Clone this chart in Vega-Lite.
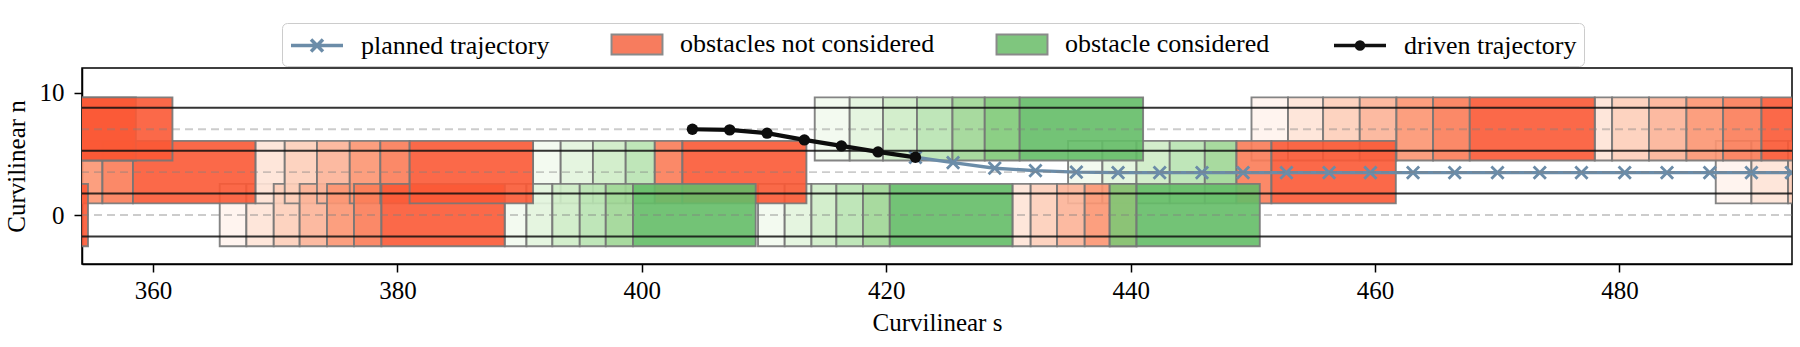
{
  "$schema": "https://vega.github.io/schema/vega-lite/v6.json",
  "width": 1710,
  "height": 196,
  "autosize": {"type": "none"},
  "padding": {"left": 82, "top": 68, "right": 8, "bottom": 83},
  "background": "white",
  "config": {
    "view": {"stroke": "black", "strokeWidth": 1.5},
    "font": "Liberation Serif",
    "axis": {
      "labelFont": "Liberation Serif", "labelFontSize": 25, "labelColor": "black",
      "titleFont": "Liberation Serif", "titleFontSize": 25, "titleFontWeight": "normal", "titleColor": "black",
      "tickColor": "black", "tickSize": 8, "tickWidth": 1.5,
      "domainColor": "black", "domainWidth": 1.5, "grid": false, "labelFlush": false
    },
    "legend": {"symbolFillColor": "transparent", "symbolStrokeColor": "transparent"}
  },
  "datasets": {
    "boxes": [
      {"s0":365.46,"s1":367.64,"n0":-2.55,"n1":2.54,"c":"R1"},
      {"s0":449.89,"s1":452.88,"n0":4.45,"n1":9.6,"c":"R1"},
      {"s0":487.88,"s1":490.8,"n0":0.95,"n1":6.05,"c":"R1"},
      {"s0":391.1,"s1":393.36,"n0":0.95,"n1":6.05,"c":"G1"},
      {"s0":434.88,"s1":437.69,"n0":0.95,"n1":6.05,"c":"G1"},
      {"s0":388.78,"s1":390.56,"n0":-2.55,"n1":2.54,"c":"G1"},
      {"s0":409.51,"s1":411.69,"n0":-2.55,"n1":2.54,"c":"G1"},
      {"s0":414.15,"s1":417.01,"n0":4.45,"n1":9.6,"c":"G1"},

      {"s0":367.64,"s1":369.88,"n0":-2.55,"n1":2.54,"c":"R2"},
      {"s0":430.33,"s1":431.82,"n0":-2.55,"n1":2.54,"c":"R2"},
      {"s0":368.38,"s1":370.78,"n0":0.95,"n1":6.05,"c":"R2"},
      {"s0":490.8,"s1":493.8,"n0":0.95,"n1":6.05,"c":"R2"},
      {"s0":452.88,"s1":455.75,"n0":4.45,"n1":9.6,"c":"R2"},
      {"s0":477.98,"s1":479.4,"n0":4.45,"n1":9.6,"c":"R2"},
      {"s0":393.36,"s1":396.0,"n0":0.95,"n1":6.05,"c":"G2"},
      {"s0":437.69,"s1":440.48,"n0":0.95,"n1":6.05,"c":"G2"},
      {"s0":390.56,"s1":392.68,"n0":-2.55,"n1":2.54,"c":"G2"},
      {"s0":411.69,"s1":413.88,"n0":-2.55,"n1":2.54,"c":"G2"},
      {"s0":417.01,"s1":419.74,"n0":4.45,"n1":9.6,"c":"G2"},

      {"s0":369.88,"s1":372.0,"n0":-2.55,"n1":2.54,"c":"R3"},
      {"s0":431.82,"s1":433.98,"n0":-2.55,"n1":2.54,"c":"R3"},
      {"s0":370.78,"s1":373.42,"n0":0.95,"n1":6.05,"c":"R3"},
      {"s0":493.8,"s1":497.0,"n0":0.95,"n1":6.05,"c":"R3"},
      {"s0":455.75,"s1":458.75,"n0":4.45,"n1":9.6,"c":"R3"},
      {"s0":479.4,"s1":482.42,"n0":4.45,"n1":9.6,"c":"R3"},
      {"s0":396.0,"s1":398.68,"n0":0.95,"n1":6.05,"c":"G3"},
      {"s0":440.48,"s1":443.2,"n0":0.95,"n1":6.05,"c":"G3"},
      {"s0":392.68,"s1":394.92,"n0":-2.55,"n1":2.54,"c":"G3"},
      {"s0":413.88,"s1":415.92,"n0":-2.55,"n1":2.54,"c":"G3"},
      {"s0":419.74,"s1":422.52,"n0":4.45,"n1":9.6,"c":"G3"},

      {"s0":372.0,"s1":374.24,"n0":-2.55,"n1":2.54,"c":"R4"},
      {"s0":433.98,"s1":436.24,"n0":-2.55,"n1":2.54,"c":"R4"},
      {"s0":373.42,"s1":376.1,"n0":0.95,"n1":6.05,"c":"R4"},
      {"s0":458.75,"s1":461.75,"n0":4.45,"n1":9.6,"c":"R4"},
      {"s0":482.42,"s1":485.48,"n0":4.45,"n1":9.6,"c":"R4"},
      {"s0":398.68,"s1":401.06,"n0":0.95,"n1":6.05,"c":"G4"},
      {"s0":443.2,"s1":446.07,"n0":0.95,"n1":6.05,"c":"G4"},
      {"s0":394.92,"s1":397.05,"n0":-2.55,"n1":2.54,"c":"G4"},
      {"s0":415.92,"s1":418.1,"n0":-2.55,"n1":2.54,"c":"G4"},
      {"s0":422.52,"s1":425.42,"n0":4.45,"n1":9.6,"c":"G4"},

      {"s0":345.0,"s1":355.86,"n0":0.95,"n1":6.05,"c":"R5"},
      {"s0":374.24,"s1":376.45,"n0":-2.55,"n1":2.54,"c":"R5"},
      {"s0":436.24,"s1":438.29,"n0":-2.55,"n1":2.54,"c":"R5"},
      {"s0":376.1,"s1":378.6,"n0":0.95,"n1":6.05,"c":"R5"},
      {"s0":461.75,"s1":464.75,"n0":4.45,"n1":9.6,"c":"R5"},
      {"s0":485.48,"s1":488.48,"n0":4.45,"n1":9.6,"c":"R5"},
      {"s0":446.07,"s1":448.66,"n0":0.95,"n1":6.05,"c":"G5"},
      {"s0":397.05,"s1":399.28,"n0":-2.55,"n1":2.54,"c":"G5"},
      {"s0":418.1,"s1":420.29,"n0":-2.55,"n1":2.54,"c":"G5"},
      {"s0":425.42,"s1":428.06,"n0":4.45,"n1":9.6,"c":"G5"},

      {"s0":355.86,"s1":358.36,"n0":0.95,"n1":6.05,"c":"R6"},
      {"s0":376.45,"s1":378.69,"n0":-2.55,"n1":2.54,"c":"R6"},
      {"s0":438.29,"s1":440.48,"n0":-2.55,"n1":2.54,"c":"R6"},
      {"s0":378.6,"s1":381.0,"n0":0.95,"n1":6.05,"c":"R6"},
      {"s0":401.06,"s1":403.32,"n0":0.95,"n1":6.05,"c":"R6"},
      {"s0":448.66,"s1":451.52,"n0":0.95,"n1":6.05,"c":"R6"},
      {"s0":464.75,"s1":467.75,"n0":4.45,"n1":9.6,"c":"R6"},
      {"s0":488.48,"s1":491.62,"n0":4.45,"n1":9.6,"c":"R6"},
      {"s0":438.29,"s1":440.48,"n0":-2.55,"n1":2.54,"c":"G6"},
      {"s0":428.06,"s1":430.92,"n0":4.45,"n1":9.6,"c":"G6"},

      {"s0":343.0,"s1":354.68,"n0":-2.55,"n1":2.54,"c":"R7"},
      {"s0":378.69,"s1":388.78,"n0":-2.55,"n1":2.54,"c":"R7"},
      {"s0":358.36,"s1":368.38,"n0":0.95,"n1":6.05,"c":"R7"},
      {"s0":381.0,"s1":391.1,"n0":0.95,"n1":6.05,"c":"R7"},
      {"s0":403.32,"s1":413.47,"n0":0.95,"n1":6.05,"c":"R7"},
      {"s0":451.52,"s1":461.7,"n0":0.95,"n1":6.05,"c":"R7"},
      {"s0":343.0,"s1":358.6,"n0":4.45,"n1":9.6,"c":"R7"},
      {"s0":350.0,"s1":361.59,"n0":4.45,"n1":9.6,"c":"R7"},
      {"s0":467.75,"s1":477.98,"n0":4.45,"n1":9.6,"c":"R7"},
      {"s0":491.62,"s1":497.0,"n0":4.45,"n1":9.6,"c":"R7"},
      {"s0":399.28,"s1":409.32,"n0":-2.55,"n1":2.54,"c":"G7"},
      {"s0":420.29,"s1":430.33,"n0":-2.55,"n1":2.54,"c":"G7"},
      {"s0":440.48,"s1":450.57,"n0":-2.55,"n1":2.54,"c":"G7"},
      {"s0":430.92,"s1":441.02,"n0":4.45,"n1":9.6,"c":"G7"}
    ],
    "lanes": [
      {"n": 8.75, "kind": "boundary"},
      {"n": 5.25, "kind": "boundary"},
      {"n": 1.75, "kind": "boundary"},
      {"n": -1.75, "kind": "boundary"},
      {"n": 7.0, "kind": "center"},
      {"n": 3.5, "kind": "center"},
      {"n": 0.0, "kind": "center"}
    ],
    "planned": [
      {"s":422.39,"n":4.71},{"s":425.47,"n":4.28},{"s":428.88,"n":3.82},{"s":432.21,"n":3.62},
      {"s":435.56,"n":3.5},{"s":438.97,"n":3.46},{"s":442.38,"n":3.46},{"s":445.84,"n":3.46},
      {"s":449.2,"n":3.46},{"s":452.75,"n":3.46},{"s":456.24,"n":3.46},{"s":459.62,"n":3.46},
      {"s":463.11,"n":3.46},{"s":466.52,"n":3.46},{"s":470.02,"n":3.46},{"s":473.48,"n":3.46},
      {"s":476.89,"n":3.46},{"s":480.43,"n":3.46},{"s":483.89,"n":3.46},{"s":487.39,"n":3.46},
      {"s":490.8,"n":3.46},{"s":494.07,"n":3.46},{"s":497.5,"n":3.46}
    ],
    "driven": [
      {"s":404.14,"n":7.0},{"s":407.19,"n":6.95},{"s":410.25,"n":6.68},{"s":413.3,"n":6.13},
      {"s":416.33,"n":5.64},{"s":419.33,"n":5.15},{"s":422.39,"n":4.71}
    ],
    "legendItems": [
      {"series": "planned trajectory"},
      {"series": "obstacles not considered"},
      {"series": "obstacle considered"},
      {"series": "driven trajectory"}
    ]
  },
  "layer": [
    {
      "data": {"name": "boxes"},
      "mark": {"type": "rect", "clip": true, "fillOpacity": 0.9, "stroke": "#777777", "strokeWidth": 1.9, "strokeOpacity": 0.9},
      "encoding": {
        "x": {"field": "s0", "type": "quantitative",
              "scale": {"domain": [354.19, 494.12], "nice": false, "zero": false},
              "axis": {"values": [360, 380, 400, 420, 440, 460, 480], "title": "Curvilinear s", "labelPadding": 6, "titlePadding": 7, "format": "d"}},
        "x2": {"field": "s1"},
        "y": {"field": "n0", "type": "quantitative",
              "scale": {"domain": [-4, 12], "nice": false, "zero": false},
              "axis": {"values": [0, 10], "title": "Curvilinear n", "labelPadding": 10, "titlePadding": 10, "format": "d"}},
        "y2": {"field": "n1"},
        "fill": {"field": "c", "type": "nominal", "legend": null,
                 "scale": {"domain": ["R1","R2","R3","R4","R5","R6","R7","G1","G2","G3","G4","G5","G6","G7"],
                           "range": ["#fff3ed","#fee3d6","#fdceb9","#fcb397","#fc9571","#fb7c58","#fb5935",
                                     "#f2f9ee","#e2f4dd","#ceecc7","#b8e3b1","#9ed695","#7fca78","#64bd67"]}}
      }
    },
    {
      "data": {"name": "planned"},
      "mark": {"type": "line", "clip": true, "color": "#6b8ca8", "strokeWidth": 3.4},
      "encoding": {
        "x": {"field": "s", "type": "quantitative"},
        "y": {"field": "n", "type": "quantitative"}
      }
    },
    {
      "data": {"name": "planned"},
      "mark": {"type": "point", "clip": true, "shape": "M-1,-1L1,1M-1,1L1,-1", "filled": false, "color": "#6b8ca8", "size": 150, "strokeWidth": 2.8, "opacity": 1},
      "encoding": {
        "x": {"field": "s", "type": "quantitative"},
        "y": {"field": "n", "type": "quantitative"}
      }
    },
    {
      "data": {"name": "lanes"},
      "transform": [{"filter": "datum.kind === 'center'"}],
      "mark": {"type": "rule", "clip": true, "color": "#808080", "opacity": 0.4, "strokeWidth": 1.8, "strokeDash": [8, 5]},
      "encoding": {"y": {"field": "n", "type": "quantitative"}}
    },
    {
      "data": {"name": "lanes"},
      "transform": [{"filter": "datum.kind === 'boundary'"}],
      "mark": {"type": "rule", "clip": true, "color": "#111111", "opacity": 0.85, "strokeWidth": 1.9},
      "encoding": {"y": {"field": "n", "type": "quantitative"}}
    },
    {
      "data": {"name": "driven"},
      "mark": {"type": "line", "clip": true, "color": "#0d0d0d", "strokeWidth": 4.2},
      "encoding": {
        "x": {"field": "s", "type": "quantitative"},
        "y": {"field": "n", "type": "quantitative"}
      }
    },
    {
      "data": {"name": "driven"},
      "mark": {"type": "point", "clip": true, "shape": "circle", "filled": true, "color": "#0d0d0d", "size": 130, "opacity": 1},
      "encoding": {
        "x": {"field": "s", "type": "quantitative"},
        "y": {"field": "n", "type": "quantitative"}
      }
    },
    {
      "data": {"name": "legendItems"},
      "transform": [{"filter": "false"}],
      "mark": {"type": "point", "filled": true, "opacity": 1},
      "encoding": {
        "shape": {
          "field": "series", "type": "nominal",
          "scale": {"domain": ["planned trajectory", "obstacles not considered", "obstacle considered", "driven trajectory"],
                    "range": ["M-2,0H2M-0.46,-0.46L0.46,0.46M-0.46,0.46L0.46,-0.46",
                              "M-1.96,-0.77H1.96V0.77H-1.96Z",
                              "M-1.96,-0.77H1.96V0.77H-1.96Z",
                              "M-2,0H2M-0.27,0A0.27,0.27,0,1,1,0.27,0A0.27,0.27,0,1,1,-0.27,0Z"]},
          "legend": {
            "title": null, "orient": "none", "legendX": 200, "legendY": -45, "direction": "horizontal",
            "padding": 7, "fillColor": "rgba(255,255,255,0.8)", "strokeColor": "#cccccc", "cornerRadius": 5,
            "labelFont": "Liberation Serif", "labelFontSize": 26, "labelColor": "black", "labelOffset": 29, "labelLimit": 0,
            "symbolSize": 676, "columnPadding": 57, "symbolOffset": 13, "rowPadding": 0
          }
        },
        "color": {
          "field": "series", "type": "nominal",
          "scale": {"domain": ["planned trajectory", "obstacles not considered", "obstacle considered", "driven trajectory"],
                    "range": ["transparent", "#f77c5e", "#7fc67e", "#111111"]},
          "legend": {
            "title": null, "orient": "none", "legendX": 200, "legendY": -45, "direction": "horizontal",
            "padding": 7, "fillColor": "rgba(255,255,255,0.8)", "strokeColor": "#cccccc", "cornerRadius": 5,
            "labelFont": "Liberation Serif", "labelFontSize": 26, "labelColor": "black", "labelOffset": 29, "labelLimit": 0,
            "symbolSize": 676, "columnPadding": 57, "symbolOffset": 13, "rowPadding": 0
          }
        },
        "stroke": {
          "field": "series", "type": "nominal",
          "scale": {"domain": ["planned trajectory", "obstacles not considered", "obstacle considered", "driven trajectory"],
                    "range": ["#6b8ca8", "#8a8a8a", "#8a8a8a", "#111111"]},
          "legend": {
            "title": null, "orient": "none", "legendX": 200, "legendY": -45, "direction": "horizontal",
            "padding": 7, "fillColor": "rgba(255,255,255,0.8)", "strokeColor": "#cccccc", "cornerRadius": 5,
            "labelFont": "Liberation Serif", "labelFontSize": 26, "labelColor": "black", "labelOffset": 29, "labelLimit": 0,
            "symbolSize": 676, "columnPadding": 57, "symbolOffset": 13, "rowPadding": 0
          }
        },
        "strokeWidth": {
          "field": "series", "type": "ordinal",
          "scale": {"type": "ordinal", "domain": ["planned trajectory", "obstacles not considered", "obstacle considered", "driven trajectory"],
                    "range": [3.5, 2, 2, 3.5]},
          "legend": {
            "title": null, "orient": "none", "legendX": 200, "legendY": -45, "direction": "horizontal",
            "padding": 7, "fillColor": "rgba(255,255,255,0.8)", "strokeColor": "#cccccc", "cornerRadius": 5,
            "labelFont": "Liberation Serif", "labelFontSize": 26, "labelColor": "black", "labelOffset": 29, "labelLimit": 0,
            "symbolSize": 676, "columnPadding": 57, "symbolOffset": 13, "rowPadding": 0
          }
        }
      }
    }
  ]
}
